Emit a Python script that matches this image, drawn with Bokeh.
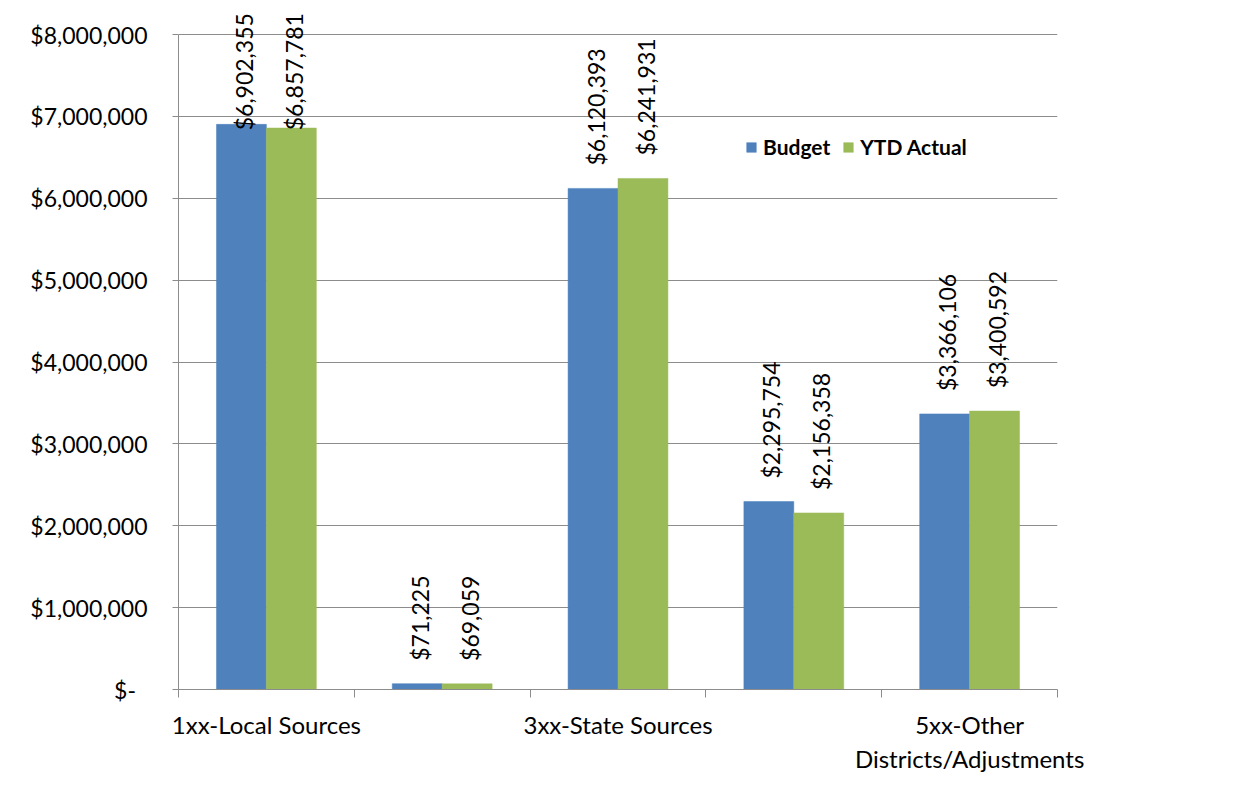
import numpy as np
from bokeh.plotting import figure
from bokeh.models import (ColumnDataSource, Range1d, FixedTicker, NumeralTickFormatter,
                          LabelSet)
from bokeh.core.properties import value
from bokeh.embed import file_html
from bokeh.resources import INLINE

# ---- data ----
tick_labels = ["1xx-Local Sources", "", "3xx-State Sources", "", "5xx-Other\nDistricts/Adjustments"]
budget = [6902355, 71225, 6120393, 2295754, 3366106]
ytd_actual = [6857781, 69059, 6241931, 2156358, 3400592]
series_names = ["Budget", "YTD Actual"]
series_colors = ["#4F81BD", "#9BBB59"]
y_ticks = [0, 1000000, 2000000, 3000000, 4000000, 5000000, 6000000, 7000000, 8000000]

FONT = "Lato"
n = len(tick_labels)
idx = np.arange(n)

# frame extends 26px above the top tick so the clamped labels are not clipped
px_per_unit = 655 / (y_ticks[-1] - y_ticks[0])
y_top = y_ticks[-1] + 26 / px_per_unit

p = figure(frame_width=879, frame_height=681, output_backend="svg", toolbar_location=None,
           x_range=Range1d(-0.5, n - 0.5), y_range=Range1d(y_ticks[0], y_top),
           min_border_left=178, min_border_right=189, min_border_top=8, min_border_bottom=90)
p.outline_line_color = None
p.background_fill_color = "white"
p.border_fill_color = "white"

bw = 0.284
offsets = [-0.142, 0.142]
for vals, name, col, off in zip([budget, ytd_actual], series_names, series_colors, offsets):
    xs = idx + off
    src = ColumnDataSource(dict(x=xs, top=vals))
    p.vbar(x="x", top="top", width=bw, source=src, fill_color=col, line_color=col,
           line_width=0.5, legend_label=name)
    vals_arr = np.array(vals, dtype=float)
    label_y = np.minimum(vals_arr + 280000, 6830000)
    lsrc = ColumnDataSource(dict(x=xs + 0.015, y=label_y, text=["${:,}".format(v) for v in vals]))
    p.add_layout(LabelSet(x="x", y="y", text="text", source=lsrc, angle=np.pi / 2,
                          text_align="left", text_baseline="middle", text_font=value(FONT),
                          text_font_size=value("23px"), text_color="black"))

# y axis
yax = p.yaxis[0]
yax.bounds = (y_ticks[0], y_ticks[-1])
yax.ticker = FixedTicker(ticks=y_ticks)
yax.formatter = NumeralTickFormatter(format="$0,0")
yax.major_label_overrides = {0: "$-\u2002"}
yax.major_label_text_font = FONT
yax.major_label_text_font_size = "23px"
yax.major_label_text_color = "black"
yax.axis_line_color = "#8c8c8c"
yax.major_tick_line_color = "#8c8c8c"
yax.major_tick_out = 6
yax.major_tick_in = 0
yax.minor_tick_line_color = None
yax.major_label_standoff = 25

# x axis
xax = p.xaxis[0]
label_ticks = [int(i) for i in idx if tick_labels[i]]
xax.ticker = FixedTicker(ticks=label_ticks, minor_ticks=list(np.arange(n + 1) - 0.5))
xax.major_label_overrides = {int(i): tick_labels[i] for i in label_ticks}
xax.major_label_text_font = FONT
xax.major_label_text_font_size = "24px"
xax.major_label_text_color = "black"
xax.axis_line_color = "#8c8c8c"
xax.major_tick_line_color = None
xax.major_tick_out = 0
xax.minor_tick_line_color = "#8c8c8c"
xax.minor_tick_out = 8
xax.minor_tick_in = 0
xax.major_label_standoff = 12

p.xgrid.grid_line_color = None
p.ygrid.grid_line_color = "#8c8c8c"
p.ygrid.ticker = FixedTicker(ticks=y_ticks)

lg = p.legend[0]
lg.location = (567, 530)
lg.orientation = "horizontal"
lg.border_line_color = None
lg.background_fill_alpha = 0
lg.padding = 0
lg.margin = 0
lg.spacing = 12
lg.glyph_width = 12
lg.glyph_height = 12
lg.label_standoff = 6
lg.label_text_font = FONT
lg.label_text_font_style = "bold"
lg.label_text_font_size = "21px"
lg.label_text_color = "black"

open("out.html", "w").write(file_html(p, INLINE))
